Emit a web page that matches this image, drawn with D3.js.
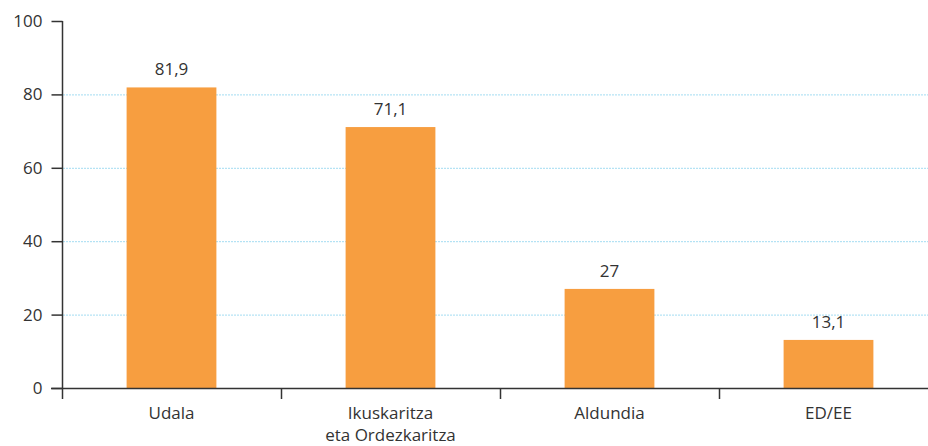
<!DOCTYPE html>
<html lang="en">
<head>
  <meta charset="utf-8">
  <script src="https://cdn.jsdelivr.net/npm/d3@7"></script>
  <style>
    body { margin: 0; background: #fff; }
    text { font-family: "Open Sans", "Noto Sans", sans-serif; fill: #333; }
  </style>
</head>
<body>
<script>
  var w = 928, h = 446;

  var categories = [["Udala"], ["Ikuskaritza", "eta Ordezkaritza"], ["Aldundia"], ["ED/EE"]];
  var values = [81.9, 71.1, 27, 13.1];
  var valueLabels = ["81,9", "71,1", "27", "13,1"];
  var yTicks = [0, 20, 40, 60, 80, 100];

  var plotLeft = 62, plotBottom = 388, plotTop = 21, bandW = 219;

  var svg = d3.select("body").append("svg")
              .attr("width", w)
              .attr("height", h);

  var x = d3.scaleBand()
            .domain(d3.range(categories.length))
            .range([plotLeft, plotLeft + bandW * categories.length])
            .paddingInner(0.59)
            .paddingOuter(0.295);

  var y = d3.scaleLinear().domain([0, 100]).range([plotBottom, plotTop]);

  // dotted gridlines
  svg.append("g").selectAll("line")
     .data(yTicks.filter(function(d) { return d > 0 && d < 100; }))
     .enter().append("line")
     .attr("x1", plotLeft + 1).attr("x2", w)
     .attr("y1", function(d) { return y(d) + 0.5; })
     .attr("y2", function(d) { return y(d) + 0.5; })
     .attr("stroke", "#a3dcf2")
     .attr("stroke-width", 1)
     .attr("stroke-dasharray", "2,1");

  // bars
  svg.append("g").selectAll("rect")
     .data(values)
     .enter().append("rect")
     .attr("x", function(d, i) { return x(i); })
     .attr("y", function(d) { return y(d); })
     .attr("width", x.bandwidth())
     .attr("height", function(d) { return plotBottom - y(d); })
     .attr("fill", "#f79e40");

  // value labels
  svg.append("g").selectAll("text")
     .data(values)
     .enter().append("text")
     .attr("x", function(d, i) { return x(i) + x.bandwidth() / 2; })
     .attr("y", function(d) { return y(d) - 12; })
     .attr("text-anchor", "middle")
     .attr("font-size", 17)
     .text(function(d, i) { return valueLabels[i]; });

  // y axis
  var yAxis = svg.append("g")
     .attr("transform", "translate(" + (plotLeft + 0.5) + ",0)")
     .call(d3.axisLeft(y).tickValues(yTicks).tickSize(11).tickPadding(9));
  yAxis.select(".domain").attr("stroke", "#333").attr("stroke-width", 1.5)
       .attr("d", "M0," + plotTop + "V" + plotBottom);
  yAxis.selectAll(".tick line").attr("stroke", "#333").attr("stroke-width", 1.5);
  yAxis.selectAll(".tick text").attr("font-size", 17).attr("font-family", null).attr("fill", "#333");

  // x axis
  var xAxisG = svg.append("g");
  xAxisG.append("line")
     .attr("x1", plotLeft - 11).attr("x2", w)
     .attr("y1", plotBottom + 0.5).attr("y2", plotBottom + 0.5)
     .attr("stroke", "#333").attr("stroke-width", 1.5);
  xAxisG.selectAll("line.sep")
     .data(d3.range(categories.length))
     .enter().append("line")
     .attr("class", "sep")
     .attr("x1", function(d) { return plotLeft + 0.5 + d * bandW; })
     .attr("x2", function(d) { return plotLeft + 0.5 + d * bandW; })
     .attr("y1", plotBottom).attr("y2", plotBottom + 11)
     .attr("stroke", "#333").attr("stroke-width", 1.5);

  var catText = xAxisG.selectAll("text.cat")
     .data(categories)
     .enter().append("text")
     .attr("class", "cat")
     .attr("text-anchor", "middle")
     .attr("font-size", 17)
     .attr("x", function(d, i) { return x(i) + x.bandwidth() / 2; })
     .attr("y", 419);
  catText.selectAll("tspan")
     .data(function(d) { return d; })
     .enter().append("tspan")
     .attr("x", function() { return d3.select(this.parentNode).attr("x"); })
     .attr("dy", function(d, i) { return i === 0 ? 0 : 22; })
     .text(function(d) { return d; });
</script>
</body>
</html>
